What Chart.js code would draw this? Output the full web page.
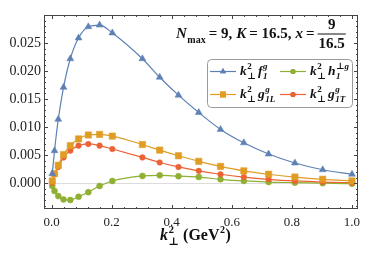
<!DOCTYPE html>
<html lang="en">
<head>
  <meta charset="UTF-8">
  <title>Gluon TMDs</title>
  <script src="https://cdn.jsdelivr.net/npm/chart.js"></script>
  <style>
    body { margin: 0; background: #fff; }
    #wrap { width: 374px; height: 254px; }
  </style>
</head>
<body>
  <div id="wrap"><canvas id="tmdChart"></canvas></div>
  <script>
    // k_perp^2 grid (GeV^2)
    const kt2 = [0.0025, 0.01, 0.0225, 0.04, 0.0625, 0.09, 0.1225, 0.16, 0.2025, 0.3025,
                 0.36, 0.4225, 0.49, 0.5625, 0.64, 0.7225, 0.81, 0.9025, 1.0];
    const f1 = [0.0017, 0.0058, 0.0114, 0.0171, 0.0222, 0.0259, 0.0279, 0.0282, 0.0268, 0.0222,
                0.0189, 0.0157, 0.0126, 0.0096, 0.0072, 0.0052, 0.0036, 0.0024, 0.0016];
    const h1perp = [-0.0005, -0.0014, -0.0023, -0.0029, -0.0030, -0.0024, -0.0016, -0.0005, 0.0004, 0.0013,
                    0.0014, 0.00125, 0.0011, 0.0007, 0.0004, 0.0002, 0.0001, 0.0000, -0.0001];
    const g1L = [0.0004, 0.0017, 0.0032, 0.0051, 0.0067, 0.0079, 0.0086, 0.0087, 0.0084, 0.0069,
                 0.0059, 0.0049, 0.0039, 0.0030, 0.0022, 0.0016, 0.0011, 0.0007, 0.0004];
    const g1T = [0.0001, 0.0016, 0.0029, 0.0046, 0.0058, 0.0067, 0.0070, 0.0067, 0.0061, 0.0046,
                 0.0037, 0.0029, 0.0022, 0.0016, 0.0011, 0.0007, 0.0004, 0.0002, 0.0001];
    const xTicks = [0, 0.2, 0.4, 0.6, 0.8, 1.0];
    const yTicks = [0, 0.005, 0.010, 0.015, 0.020, 0.025];

    const BLUE = '#5E81B5', ORANGE = '#E19C24', GREEN = '#8FB032', RED = '#EB6235';
    const SERIF = '"Liberation Serif", "DejaVu Serif", serif';

    function pts(ys) { return kt2.map((x, i) => ({ x: x, y: ys[i] })); }

    function series(label, ys, color, style, r) {
      return {
        label: label, data: pts(ys), borderColor: color, backgroundColor: color,
        borderWidth: 1.2, pointStyle: style, pointRadius: r, pointHoverRadius: r,
        pointBorderWidth: 0.5, cubicInterpolationMode: 'monotone', fill: false
      };
    }

    // draws base letter with stacked super/subscript, returns new x
    function sym(ctx, x, y, base, sup, sub, size) {
      ctx.font = 'italic bold ' + size + 'px ' + SERIF;
      ctx.fillText(base, x, y);
      x += ctx.measureText(base).width + 0.5;
      const s = Math.round(size * 0.68);
      let w = 0;
      if (sup) {
        ctx.font = (sup.upright ? 'bold ' : 'italic bold ') + s + 'px ' + SERIF;
        ctx.fillText(sup.t, x, y - size * 0.42);
        w = Math.max(w, ctx.measureText(sup.t).width);
      }
      if (sub) {
        ctx.font = (sub.upright ? 'bold ' : 'italic bold ') + s + 'px ' + SERIF;
        ctx.fillText(sub.t, x, y + size * 0.3);
        w = Math.max(w, ctx.measureText(sub.t).width);
      }
      return x + w + 1;
    }

    function plain(ctx, x, y, t, font) {
      ctx.font = font;
      ctx.fillText(t, x, y);
      return x + ctx.measureText(t).width;
    }

    function kperp(ctx, x, y, size) {
      return sym(ctx, x, y, 'k', { t: '2', upright: true }, { t: '⊥', upright: true }, size);
    }

    const framePlugin = {
      id: 'frame',
      beforeDatasetsDraw(chart) {
        const ctx = chart.ctx, a = chart.chartArea, ys = chart.scales.y;
        const y0 = Math.round(ys.getPixelForValue(0)) + 0.5;
        ctx.save();
        ctx.strokeStyle = '#dcdcdc';
        ctx.lineWidth = 1;
        ctx.beginPath();
        ctx.moveTo(a.left, y0);
        ctx.lineTo(a.right, y0);
        ctx.stroke();
        ctx.restore();
      },
      afterDraw(chart) {
        const ctx = chart.ctx, a = chart.chartArea;
        const xs = chart.scales.x, ys = chart.scales.y;
        ctx.save();
        ctx.strokeStyle = '#444';
        ctx.lineWidth = 1;
        ctx.strokeRect(a.left + 0.5, a.top + 0.5, a.right - a.left - 1, a.bottom - a.top - 1);
        ctx.beginPath();
        for (let i = 0; i <= 25; i++) {
          const v = i * 0.04;
          const px = Math.round(xs.getPixelForValue(v)) + 0.5;
          const len = (i % 5 === 0) ? 4 : 2;
          ctx.moveTo(px, a.bottom); ctx.lineTo(px, a.bottom - len);
          ctx.moveTo(px, a.top); ctx.lineTo(px, a.top + len);
        }
        for (let i = -4; i <= 29; i++) {
          const v = i * 0.001;
          const py = Math.round(ys.getPixelForValue(v)) + 0.5;
          const len = (i % 5 === 0) ? 4 : 2;
          ctx.moveTo(a.left, py); ctx.lineTo(a.left + len, py);
          ctx.moveTo(a.right, py); ctx.lineTo(a.right - len, py);
        }
        ctx.stroke();

        // annotation
        ctx.fillStyle = '#111';
        ctx.textBaseline = 'alphabetic';
        ctx.textAlign = 'left';
        const fs = 15;
        const bf = 'bold ' + fs + 'px ' + SERIF, itf = 'italic bold ' + fs + 'px ' + SERIF;
        let x = 176, y = 38;
        x = sym(ctx, x, y, 'N', null, { t: 'max', upright: true }, fs);
        x = plain(ctx, x + 2, y, '= 9,', bf);
        x = plain(ctx, x + 4, y, 'K', itf);
        x = plain(ctx, x + 3, y, '= 16.5,', bf);
        x = plain(ctx, x + 4, y, 'x', itf);
        x = plain(ctx, x + 3, y, '=', bf) + 3;
        ctx.font = bf;
        const fw = ctx.measureText('16.5').width;
        ctx.textAlign = 'center';
        ctx.fillText('9', x + fw / 2 + 1, 29);
        ctx.fillText('16.5', x + fw / 2 + 1, 48);
        ctx.fillRect(x, 33.5, fw + 2, 1);
        ctx.textAlign = 'left';

        // legend box
        const bx = 207.5, by = 59.5, bw = 145, bh = 48;
        ctx.beginPath();
        ctx.roundRect(bx, by, bw, bh, 4);
        ctx.fillStyle = 'rgba(255,255,255,0.9)';
        ctx.fill();
        ctx.strokeStyle = '#9a9a9a';
        ctx.stroke();
        const items = [
          { c: BLUE, s: 'triangle', r: 3.5, col: 0, row: 0, base: 'f', sup: 'g', sub: '1' },
          { c: GREEN, s: 'circle', r: 2.6, col: 1, row: 0, base: 'h', sup: '⊥g', sub: '1' },
          { c: ORANGE, s: 'rect', r: 4.2, col: 0, row: 1, base: 'g', sup: 'g', sub: '1L' },
          { c: RED, s: 'circle', r: 2.6, col: 1, row: 1, base: 'g', sup: 'g', sub: '1T' }
        ];
        items.forEach(it => {
          const lx = it.col ? 280 : 210, cy = it.row ? 94 : 71;
          ctx.strokeStyle = it.c;
          ctx.lineWidth = 1.2;
          ctx.beginPath();
          ctx.moveTo(lx, cy + 0.5); ctx.lineTo(lx + 26, cy + 0.5);
          ctx.stroke();
          ctx.fillStyle = it.c;
          Chart.helpers.drawPoint(ctx, { pointStyle: it.s, radius: it.r, borderWidth: 0 }, lx + 13, cy + 0.5);
          ctx.fill();
          ctx.fillStyle = '#111';
          let tx = kperp(ctx, lx + 30, cy + 4, 13.5);
          sym(ctx, tx + 1, cy + 4, it.base, { t: it.sup }, { t: it.sub }, 13.5);
        });

        // x-axis title
        ctx.fillStyle = '#111';
        let ax = 160, ay = 240;
        ax = kperp(ctx, ax, ay, 16);
        ax = plain(ctx, ax + 3, ay, '(GeV', 'bold 16px ' + SERIF);
        ctx.font = 'bold 10px ' + SERIF;
        ctx.fillText('2', ax + 0.5, ay - 7);
        ax += ctx.measureText('2').width + 1;
        plain(ctx, ax, ay, ')', 'bold 16px ' + SERIF);
        ctx.restore();
      }
    };

    const ctx = document.getElementById('tmdChart').getContext('2d');
    const chart = new Chart(ctx, {
      type: 'line',
      data: {
        datasets: [
          series('f1', f1, BLUE, 'triangle', 4),
          series('g1L', g1L, ORANGE, 'rect', 4.5),
          series('g1T', g1T, RED, 'circle', 2.8),
          series('h1perp', h1perp, GREEN, 'circle', 3)
        ]
      },
      options: {
        responsive: true,
        maintainAspectRatio: false,
        animation: false,
        layout: { padding: { top: 15, right: 16, left: 0, bottom: 0 } },
        plugins: { legend: { display: false }, tooltip: { enabled: false } },
        scales: {
          x: {
            type: 'linear', min: -0.025, max: 1.02,
            grid: { display: false, drawTicks: false }, border: { display: false },
            afterBuildTicks: s => { s.ticks = xTicks.map(v => ({ value: v })); },
            afterFit: s => { s.height = 45; },
            ticks: {
              padding: 6, color: '#222', maxRotation: 0,
              font: { family: SERIF, size: 13 },
              callback: v => v.toFixed(1)
            }
          },
          y: {
            type: 'linear', min: -0.0046, max: 0.030,
            grid: { display: false, drawTicks: false }, border: { display: false },
            afterBuildTicks: s => { s.ticks = yTicks.map(v => ({ value: v })); },
            afterFit: s => { s.width = 44; },
            ticks: {
              padding: 3, color: '#222',
              font: { family: SERIF, size: 14 },
              callback: v => v.toFixed(3)
            }
          }
        }
      },
      plugins: [framePlugin]
    });
  </script>
</body>
</html>
